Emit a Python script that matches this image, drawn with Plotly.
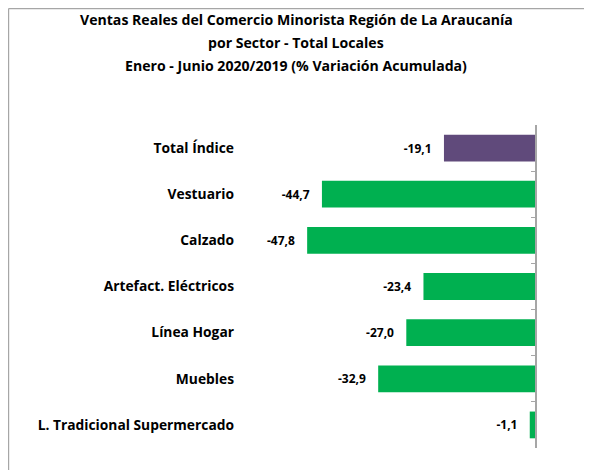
import plotly.graph_objects as go

categories = ["Total Índice", "Vestuario", "Calzado", "Artefact. Eléctricos",
              "Línea Hogar", "Muebles", "L. Tradicional Supermercado"]
values = [-19.1, -44.7, -47.8, -23.4, -27.0, -32.9, -1.1]
bar_colors = ["#604A7B", "#00B050", "#00B050", "#00B050", "#00B050", "#00B050", "#00B050"]
title_lines = ["Ventas Reales del Comercio Minorista Región de La Araucanía",
               "por Sector - Total Locales",
               "Enero - Junio 2020/2019 (% Variación Acumulada)"]
boundary_ticks = list(range(len(categories) + 1))

FONT = "Open Sans"
labels = [f"{v:.1f}".replace(".", ",") + "   " for v in values]

# page is offset by the 8px default body margin
OFF = 8
W, H = 592 - OFF, 470 - OFF
L, R = 249 - OFF, W - (535 - OFF)
T, B = 125 - OFF, H - (448 - OFF)
pw, ph = W - L - R, H - T - B

fig = go.Figure()
fig.add_trace(go.Bar(
    x=values, y=categories, orientation="h",
    marker=dict(color=bar_colors, line=dict(width=0)),
    text=labels, textposition="outside", cliponaxis=False,
    textfont=dict(family=FONT, size=12, color="#000000", weight="bold"),
    width=0.58, hoverinfo="skip", showlegend=False,
))
# invisible trace to carry the right-hand axis line
fig.add_trace(go.Scatter(x=[None], y=[None], yaxis="y2", showlegend=False, hoverinfo="skip"))


def px_x(p):
    return (p - OFF - L) / pw


def px_y(p):
    return (H - B - (p - OFF)) / ph


annotations = []
title_y = [19.5, 42.5, 65.5]
for line, py in zip(title_lines, title_y):
    annotations.append(dict(text=f"<b>{line}</b>", x=px_x(296), xref="paper", y=px_y(py),
                            yref="paper", xanchor="center", yanchor="middle", showarrow=False,
                            font=dict(family=FONT, size=14.1, color="#000000")))

shapes = [
    dict(type="line", xref="paper", yref="paper", x0=px_x(8.6), x1=px_x(8.6), y0=px_y(480), y1=px_y(8.6),
         line=dict(color="#A6A6A6", width=1.2)),
    dict(type="line", xref="paper", yref="paper", x0=px_x(8.6), x1=px_x(600), y0=px_y(8.6), y1=px_y(8.6),
         line=dict(color="#A6A6A6", width=1.2)),
]

fig.update_layout(
    width=W, height=H,
    margin=dict(l=L, r=R, t=T, b=B),
    paper_bgcolor="white", plot_bgcolor="white",
    bargap=0.42,
    xaxis=dict(range=[-60, 0], showgrid=False, zeroline=False, showline=False,
               showticklabels=False, ticks="", fixedrange=True),
    yaxis=dict(autorange="reversed", showgrid=False, zeroline=False, showline=False,
               ticks="", ticklabelstandoff=14,
               tickfont=dict(family=FONT, size=13.8, color="#000000", weight="bold")),
    yaxis2=dict(overlaying="y", side="right", anchor="x", range=[0, len(categories)],
                tickvals=boundary_ticks, ticks="inside", ticklen=4, tickcolor="#A6A6A6",
                tickwidth=1, showline=True, linecolor="#A6A6A6", linewidth=1.5,
                showticklabels=False, showgrid=False, zeroline=False),
    annotations=annotations,
    shapes=shapes,
)

fig.write_html("out.html")
